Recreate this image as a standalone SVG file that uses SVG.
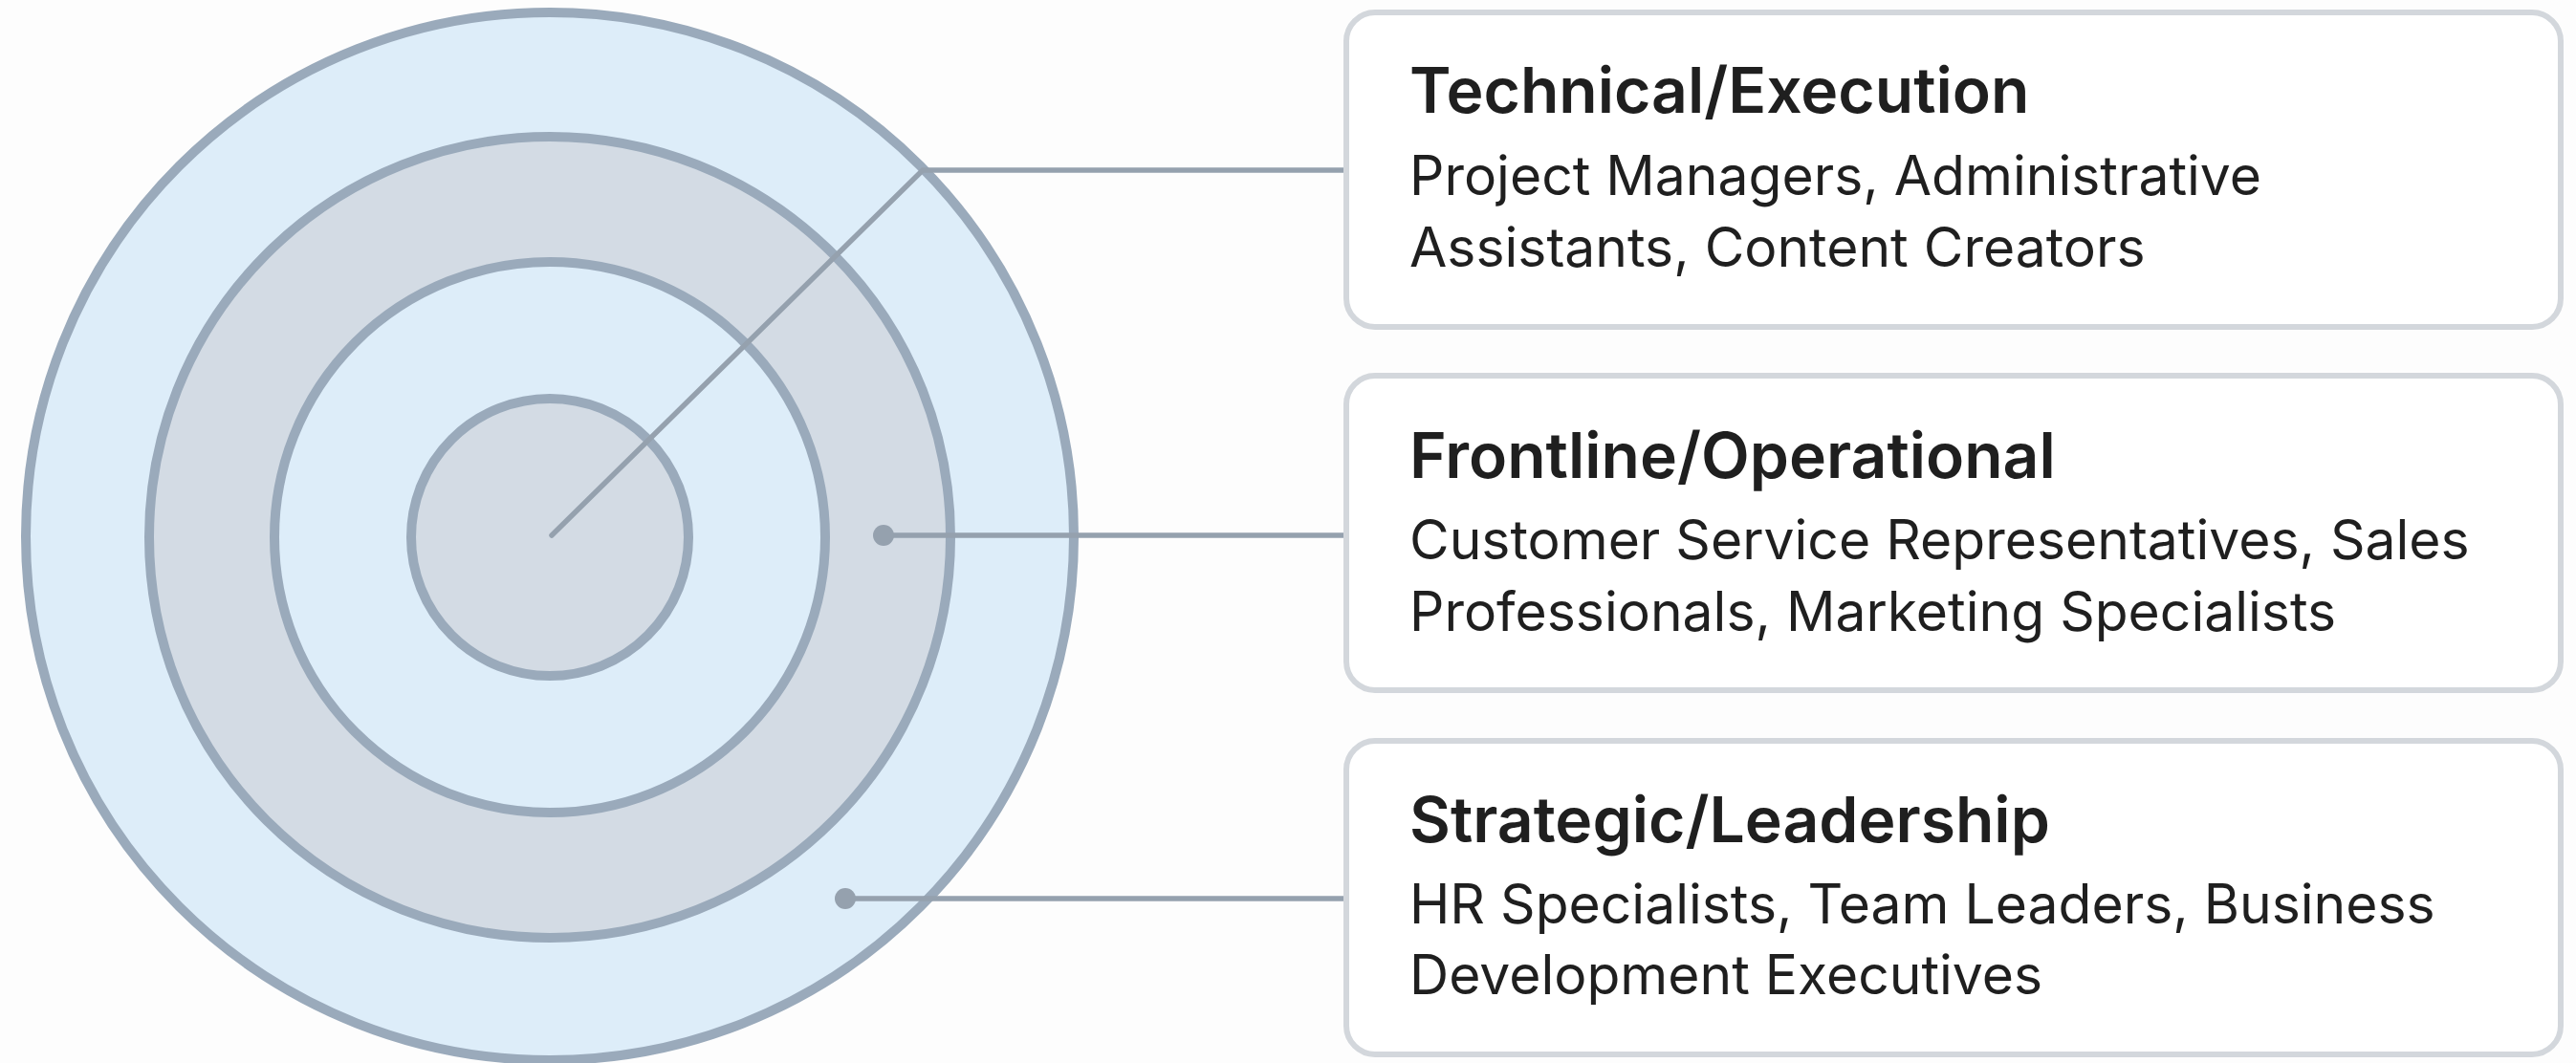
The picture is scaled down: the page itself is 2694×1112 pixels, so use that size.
<svg xmlns="http://www.w3.org/2000/svg" width="2694" height="1112" viewBox="0 0 2694 1112">
  <style>
    .ring { stroke: #9aaabb; stroke-width: 10; }
    .blue { fill: #ddedf9; }
    .gray { fill: #d3dbe4; }
    .box { fill: #ffffff; stroke: #d3d7dc; stroke-width: 6; }
    .title { font-family: Inter, "Liberation Sans", sans-serif; font-weight: 600; font-size: 66px; fill: #1f1f1f; }
    .body { font-family: Inter, "Liberation Sans", sans-serif; font-weight: 400; font-size: 57px; fill: #1f1f1f; }
    .conn { stroke: #95a1ae; stroke-width: 5.5; fill: none; stroke-linecap: round; }
    .dot { fill: #95a1ae; }
  </style>
  <rect x="0" y="0" width="2694" height="1112" fill="#fdfdfd"/>

  <g id="target">
    <circle id="ring-outer" class="ring blue" cx="575" cy="561" r="548"/>
    <circle id="ring-second" class="ring gray" cx="575" cy="562" r="419"/>
    <circle id="ring-third" class="ring blue" cx="575" cy="562" r="288"/>
    <circle id="ring-inner" class="ring gray" cx="575" cy="562" r="145"/>
  </g>

  <g id="connectors">
    <polyline class="conn" points="577,560 965,178 1408,178"/>
    <line class="conn" x1="924" y1="560" x2="1408" y2="560"/>
    <circle class="dot" cx="924" cy="560" r="11"/>
    <line class="conn" x1="884" y1="940" x2="1408" y2="940"/>
    <circle class="dot" cx="884" cy="940" r="11"/>
  </g>

  <g id="box-technical">
    <rect class="box" x="1408" y="13" width="1270" height="329" rx="30"/>
    <text class="title" x="1474" y="118">Technical/Execution</text>
    <text class="body" x="1474" y="204">Project Managers, Administrative</text>
    <text class="body" x="1474" y="279">Assistants, Content Creators</text>
  </g>

  <g id="box-frontline">
    <rect class="box" x="1408" y="393" width="1270" height="329" rx="30"/>
    <text class="title" x="1474" y="500">Frontline/Operational</text>
    <text class="body" x="1474" y="585">Customer Service Representatives, Sales</text>
    <text class="body" x="1474" y="660">Professionals, Marketing Specialists</text>
  </g>

  <g id="box-strategic">
    <rect class="box" x="1408" y="775" width="1270" height="328" rx="30"/>
    <text class="title" x="1474" y="881">Strategic/Leadership</text>
    <text class="body" x="1474" y="966">HR Specialists, Team Leaders, Business</text>
    <text class="body" x="1474" y="1040">Development Executives</text>
  </g>
</svg>
